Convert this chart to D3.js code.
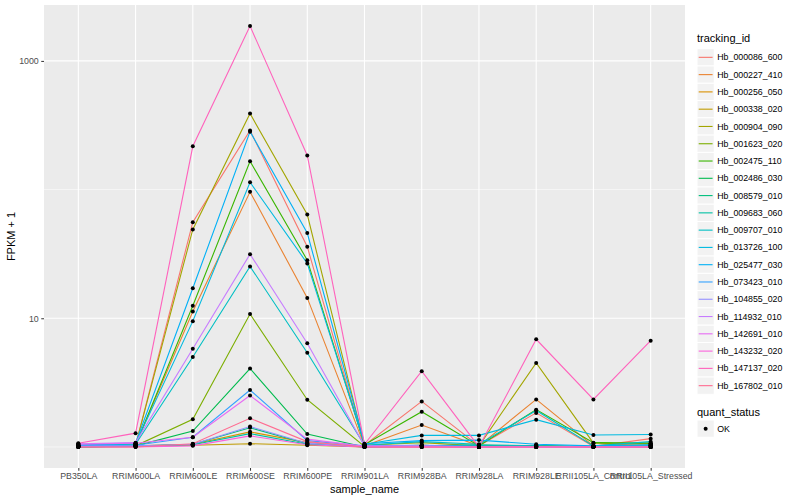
<!DOCTYPE html>
<html>
<head>
<meta charset="utf-8">
<script src="https://cdn.jsdelivr.net/npm/d3@7"></script>
<style>
    body { margin: 0; background: #fff; }
    text { font-family: "Liberation Sans", Arial, Helvetica, sans-serif; }
</style>
</head>
<body>
<div id="chart"></div>
<script>
const samples = ["PB350LA", "RRIM600LA", "RRIM600LE", "RRIM600SE", "RRIM600PE", "RRIM901LA",
    "RRIM928BA", "RRIM928LA", "RRIM928LE", "RRII105LA_Control", "RRII105LA_Stressed"];

const trackingIds = ["Hb_000086_600", "Hb_000227_410", "Hb_000256_050", "Hb_000338_020", "Hb_000904_090",
    "Hb_001623_020", "Hb_002475_110", "Hb_002486_030", "Hb_008579_010", "Hb_009683_060",
    "Hb_009707_010", "Hb_013726_100", "Hb_025477_030", "Hb_073423_010", "Hb_104855_020",
    "Hb_114932_010", "Hb_142691_010", "Hb_143232_020", "Hb_147137_020", "Hb_167802_010"];

// FPKM values, one row per tracking_id, in sample order
const fpkm = [
    [0.02, 0.03, 54.8, 287, 35, 0.03, 1.26, 0.02, 0.84, 0.01, 0.16],
    [0.01, 0.04, 10.3, 95, 13.4, 0.02, 0.48, 0.02, 1.34, 0.02, 0.07],
    [0.00, 0.02, 0.05, 0.31, 0.08, 0.00, 0.03, 0.00, 0.02, 0.00, 0.03],
    [0.00, 0.01, 0.03, 0.06, 0.03, 0.00, 0.00, 0.00, 0.00, 0.00, 0.00],
    [0.01, 0.03, 48, 389, 63, 0.03, 0.08, 0.02, 3.5, 0.07, 0.05],
    [0.02, 0.02, 0.64, 9.8, 1.33, 0.01, 0.03, 0.00, 0.02, 0.00, 0.02],
    [0.02, 0.03, 11.5, 165, 27.3, 0.04, 0.88, 0.02, 0.95, 0.08, 0.07],
    [0.00, 0.02, 0.33, 3.07, 0.26, 0.00, 0.02, 0.00, 0.02, 0.00, 0.00],
    [0.00, 0.01, 0.05, 0.41, 0.06, 0.00, 0.02, 0.03, 0.01, 0.00, 0.02],
    [0.01, 0.02, 0.04, 0.27, 0.05, 0.01, 0.02, 0.04, 0.02, 0.01, 0.03],
    [0.03, 0.05, 4.0, 24.3, 4.4, 0.03, 0.10, 0.05, 0.92, 0.02, 0.10],
    [0.04, 0.06, 8.5, 113, 25.7, 0.05, 0.23, 0.23, 0.63, 0.24, 0.25],
    [0.03, 0.07, 16.1, 281, 45, 0.06, 0.12, 0.13, 0.05, 0.02, 0.04],
    [0.02, 0.03, 0.19, 1.77, 0.12, 0.02, 0.03, 0.01, 0.01, 0.00, 0.02],
    [0.01, 0.02, 0.05, 0.44, 0.07, 0.00, 0.01, 0.00, 0.00, 0.00, 0.00],
    [0.06, 0.08, 4.8, 30.5, 5.4, 0.02, 0.02, 0.00, 0.00, 0.00, 0.00],
    [0.05, 0.07, 0.19, 1.51, 0.15, 0.01, 0.00, 0.00, 0.00, 0.00, 0.00],
    [0.00, 0.00, 0.02, 0.22, 0.04, 0.00, 0.00, 0.00, 0.00, 0.00, 0.00],
    [0.07, 0.28, 216, 1865, 183, 0.05, 2.88, 0.00, 5.87, 1.34, 5.7],
    [0.00, 0.00, 0.06, 0.67, 0.10, 0.00, 0.00, 0.00, 0.00, 0.00, 0.00]
];

const yBreaks = [10, 1000];
const yMinorBreaks = [1, 100];
const quantStatus = ["OK"];

// ggplot2 hue palette for 20 levels
const colors = ["#F8766D", "#EA8331", "#D89000", "#C09B00", "#A3A500", "#7CAE00", "#39B600", "#00BB4E",
    "#00BF7D", "#00C1A3", "#00BFC4", "#00BAE0", "#00B0F6", "#35A2FF", "#9590FF", "#C77CFF",
    "#E76BF3", "#FA62DB", "#FF62BC", "#FF6C91"];

const width = 800, height = 500;
const panel = {left: 44, right: 685, top: 5, bottom: 468};

let svg = d3.select("#chart").append("svg")
    .attr("width", width)
    .attr("height", height);

let series = trackingIds.map(function (id, i) {
    return {id: id, color: colors[i], values: fpkm[i].map(function (v, j) {
        return {sample: samples[j], value: v + 1};
    })};
});

let x = d3.scalePoint()
    .domain(samples)
    .range([panel.left, panel.right])
    .padding(0.6);

// log scale with 5% expansion like ggplot
let allValues = series.flatMap(d => d.values.map(v => v.value));
let lo = Math.log10(d3.min(allValues)), hi = Math.log10(d3.max(allValues));
let pad = (hi - lo) * 0.05;
let y = d3.scaleLog()
    .domain([Math.pow(10, lo - pad), Math.pow(10, hi + pad)])
    .range([panel.bottom, panel.top]);

// panel background and grid
svg.append("rect")
    .attr("x", panel.left).attr("y", panel.top)
    .attr("width", panel.right - panel.left).attr("height", panel.bottom - panel.top)
    .attr("fill", "#EBEBEB");

let grid = svg.append("g").attr("class", "grid");
grid.selectAll(".minor").data(yMinorBreaks).enter().append("line")
    .attr("x1", panel.left).attr("x2", panel.right)
    .attr("y1", d => y(d)).attr("y2", d => y(d))
    .attr("stroke", "#fff").attr("stroke-width", 0.55);
grid.selectAll(".majorY").data(yBreaks).enter().append("line")
    .attr("x1", panel.left).attr("x2", panel.right)
    .attr("y1", d => y(d)).attr("y2", d => y(d))
    .attr("stroke", "#fff").attr("stroke-width", 1.1);
grid.selectAll(".majorX").data(samples).enter().append("line")
    .attr("x1", d => x(d)).attr("x2", d => x(d))
    .attr("y1", panel.top).attr("y2", panel.bottom)
    .attr("stroke", "#fff").attr("stroke-width", 1.1);

// lines
let line = d3.line()
    .x(d => x(d.sample))
    .y(d => y(d.value));

svg.append("g").selectAll("path").data(series).enter().append("path")
    .attr("d", d => line(d.values))
    .attr("fill", "none")
    .attr("stroke", d => d.color)
    .attr("stroke-width", 1.1);

// points
svg.append("g").selectAll("g").data(series).enter().append("g")
    .selectAll("circle").data(d => d.values).enter().append("circle")
    .attr("cx", d => x(d.sample))
    .attr("cy", d => y(d.value))
    .attr("r", 2)
    .attr("fill", "#000");

// axes
let xAxis = svg.append("g")
    .attr("transform", "translate(0," + panel.bottom + ")")
    .call(d3.axisBottom(x).tickSize(2.75).tickPadding(2.5));
let yAxis = svg.append("g")
    .attr("transform", "translate(" + panel.left + ",0)")
    .call(d3.axisLeft(y).tickValues(yBreaks).tickFormat(d3.format("d")).tickSize(2.75).tickPadding(2.5));

[xAxis, yAxis].forEach(function (a) {
    a.select(".domain").remove();
    a.selectAll(".tick line").attr("stroke", "#333");
    a.selectAll(".tick text").attr("fill", "#4D4D4D").style("font-size", "8.8px");
});

svg.append("text")
    .attr("x", (panel.left + panel.right) / 2)
    .attr("y", 493)
    .attr("text-anchor", "middle")
    .style("font-size", "11px")
    .text("sample_name");

svg.append("text")
    .attr("transform", "translate(15," + (panel.top + panel.bottom) / 2 + ") rotate(-90)")
    .attr("text-anchor", "middle")
    .style("font-size", "11px")
    .text("FPKM + 1");

// legend: tracking_id
let keySize = 17.28;
let legend = svg.append("g").attr("transform", "translate(697,48.7)");
legend.append("text")
    .attr("x", 0).attr("y", -7)
    .style("font-size", "11px")
    .text("tracking_id");
let keys = legend.selectAll(".key").data(series).enter().append("g")
    .attr("transform", (d, i) => "translate(0," + i * keySize + ")");
keys.append("rect")
    .attr("width", keySize).attr("height", keySize)
    .attr("fill", "#F2F2F2").attr("stroke", "#fff").attr("stroke-width", 1);
keys.append("line")
    .attr("x1", 1.7).attr("x2", keySize - 1.7)
    .attr("y1", keySize / 2).attr("y2", keySize / 2)
    .attr("stroke", d => d.color).attr("stroke-width", 1.1);
keys.append("text")
    .attr("x", keySize + 3).attr("y", keySize / 2)
    .attr("dy", "0.35em")
    .style("font-size", "8.8px")
    .text(d => d.id);

// legend: quant_status
let legend2 = svg.append("g").attr("transform", "translate(697,420)");
legend2.append("text")
    .attr("x", 0).attr("y", -4)
    .style("font-size", "11px")
    .text("quant_status");
let keys2 = legend2.selectAll(".key").data(quantStatus).enter().append("g");
keys2.append("rect")
    .attr("width", keySize).attr("height", keySize)
    .attr("fill", "#F2F2F2").attr("stroke", "#fff").attr("stroke-width", 1);
keys2.append("circle")
    .attr("cx", keySize / 2).attr("cy", keySize / 2).attr("r", 2)
    .attr("fill", "#000");
keys2.append("text")
    .attr("x", keySize + 3).attr("y", keySize / 2)
    .attr("dy", "0.35em")
    .style("font-size", "8.8px")
    .text(d => d);
</script>
</body>
</html>
